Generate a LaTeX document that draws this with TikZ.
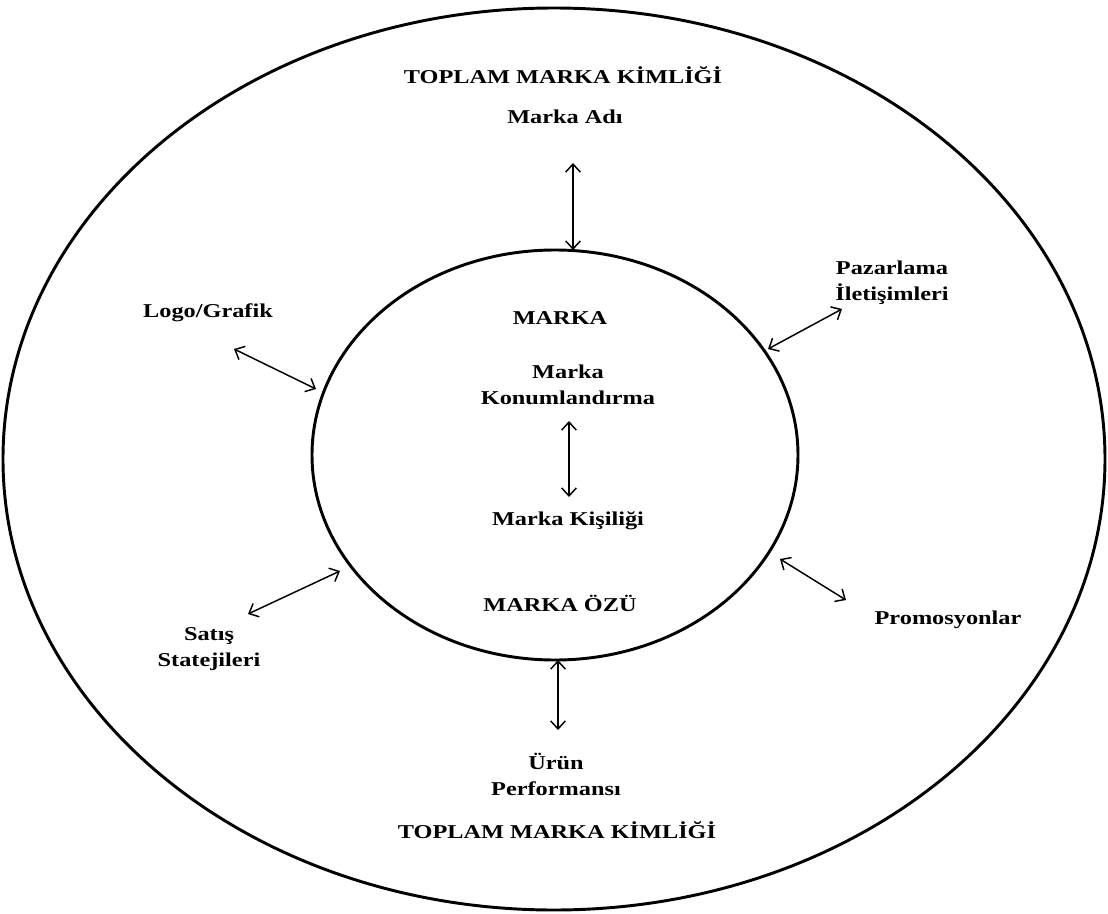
\documentclass[tikz,border=0pt]{standalone}
\usepackage{fontspec}
\setmainfont{Liberation Serif}
\usetikzlibrary{arrows.meta}
\begin{document}
\begin{tikzpicture}[x=0.75pt,y=-0.75pt,
  lbl/.style={font=\bfseries\fontsize{14.7}{17.5}\selectfont,align=center,inner sep=0pt,xscale=1.24,transform shape},
  ring/.style={line width=2.2pt},
  link/.style={line width=1.1pt,{Straight Barb[length=6pt,width=11pt]}-{Straight Barb[length=6pt,width=11pt]}}]
\useasboundingbox (0,0) rectangle (1108,914);
% identity rings
\draw[ring] (554,459) ellipse [x radius=551,y radius=451];
\draw[ring] (555,455) ellipse [x radius=243,y radius=205];
% labels
\node[lbl] (top) at (563,75) {TOPLAM MARKA KİMLİĞİ};
\node[lbl] (adi) at (565,117) {Marka Adı};
\node[lbl] (marka) at (560,318) {MARKA};
\node[lbl] (konum) at (568,385) {Marka\\[2pt]Konumlandırma};
\node[lbl] (kisilik) at (568,521) {Marka Kişiliği};
\node[lbl] (oz) at (560,603) {MARKA ÖZÜ};
\node[lbl] (urun) at (556,774) {Ürün\\[2pt]Performansı};
\node[lbl] (bottom) at (557,830) {TOPLAM MARKA KİMLİĞİ};
\node[lbl] (logo) at (208,313) {Logo/Grafik};
\node[lbl] (pazar) at (892,283) {Pazarlama\\[2pt]İletişimleri};
\node[lbl] (satis) at (209,649) {Satış\\[2pt]Statejileri};
\node[lbl] (promo) at (948,620) {Promosyonlar};
% arrow end points
\coordinate (a1) at (573,163); \coordinate (a2) at (573,250);
\coordinate (b1) at (569,421); \coordinate (b2) at (569,497);
\coordinate (c1) at (558,660); \coordinate (c2) at (558,730);
\coordinate (d1) at (234,349); \coordinate (d2) at (316,389);
\coordinate (e1) at (842,309); \coordinate (e2) at (768,349);
\coordinate (f1) at (248,614); \coordinate (f2) at (340,571);
\coordinate (g1) at (780,559); \coordinate (g2) at (846,600);
% two-way links
\draw[link] (a1) -- (a2);
\draw[link] (b1) -- (b2);
\draw[link] (c1) -- (c2);
\draw[link] (d1) -- (d2);
\draw[link] (e1) -- (e2);
\draw[link] (f1) -- (f2);
\draw[link] (g1) -- (g2);
\end{tikzpicture}
\end{document}
